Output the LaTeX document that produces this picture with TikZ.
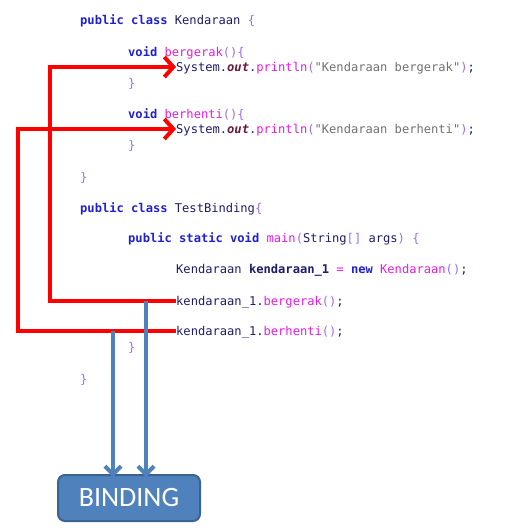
\documentclass[tikz,border=0pt]{standalone}
\usepackage{fontspec}
\setmonofont{DejaVu Sans Mono}
\setsansfont{Carlito}
\usetikzlibrary{arrows.meta}

\definecolor{kwblue}{HTML}{1F1FD6}
\definecolor{idnavy}{HTML}{1C1C6C}
\definecolor{mtpink}{HTML}{E619E6}
\definecolor{brpurple}{HTML}{9B6BF2}
\definecolor{strgray}{HTML}{707070}
\definecolor{outred}{HTML}{6B1A3A}
\definecolor{wireblue}{HTML}{4F81BD}
\definecolor{boxedge}{HTML}{3B6290}

\newcommand{\kw}[1]{\textcolor{kwblue}{\bfseries #1}}
\newcommand{\mt}[1]{\textcolor{mtpink}{#1}}
\newcommand{\br}[1]{\textcolor{brpurple}{#1}}
\newcommand{\str}[1]{\textcolor{strgray}{#1}}
\newcommand{\outf}{\textcolor{outred}{\bfseries\itshape out}}

\tikzset{
  code/.style={anchor=west, inner sep=0pt, text=idnavy,
    font=\ttfamily\fontsize{12.1}{14}\selectfont, text height=10pt, text depth=2pt},
  redwire/.style={draw=red, line width=4pt, line join=miter},
  bluewire/.style={draw=wireblue, line width=4pt},
  bindbox/.style={draw=boxedge, line width=2pt, fill=wireblue, rounded corners=7pt,
    minimum width=142pt, minimum height=46pt, text=white,
    font=\sffamily\fontsize{28}{30}\selectfont}
}

\begin{document}
\begin{tikzpicture}[x=1pt,y=-1pt]
\useasboundingbox (0,0) rectangle (505,530);

% class Kendaraan
\node[code] (clsA) at (80,20) {\kw{public class} Kendaraan \br{\{}};
\node[code] (headA) at (128,52) {\kw{void} \mt{bergerak}\br{()\{}};
\node[code] (bodyA) at (176,67) {System.\outf.\mt{println}\br{(}\str{"Kendaraan bergerak"}\br{)};};
\node[code] (endA) at (128,83) {\br{\}}};
\node[code] (headB) at (128,114) {\kw{void} \mt{berhenti}\br{()\{}};
\node[code] (bodyB) at (176,129) {System.\outf.\mt{println}\br{(}\str{"Kendaraan berhenti"}\br{)};};
\node[code] (endB) at (128,145) {\br{\}}};
\node[code] (endCls) at (80,177) {\br{\}}};

% class TestBinding
\node[code] (clsB) at (80,208) {\kw{public class} TestBinding\br{\{}};
\node[code] (mainH) at (128,238) {\kw{public static void} \mt{main}\br{(}String\br{[]} args\br{)} \br{\{}};
\node[code] (decl) at (176,269) {Kendaraan \textbf{kendaraan\_1} \mt{=} \kw{new} \mt{Kendaraan}\br{()};};
\node[code] (callA) at (176,301) {kendaraan\_1.\mt{bergerak}\br{()};};
\node[code] (callB) at (176,331) {kendaraan\_1.\mt{berhenti}\br{()};};
\node[code] (endMain) at (128,347) {\br{\}}};
\node[code] (endTest) at (80,379) {\br{\}}};

\node[bindbox] (bind) at (129,498) {BINDING};

% calls jump into the method bodies
\coordinate (turnA) at (50,67);
\coordinate (turnB) at (18,129);
\draw[redwire, -{Straight Barb[length=9pt,width=20pt]}] (callA.west) -| (turnA) -- (bodyA.west);
\draw[redwire, -{Straight Barb[length=9pt,width=20pt]}] (callB.west) -| (turnB) -- (bodyB.west);

% both calls go to the binding box
\coordinate (tapA) at (146,301);
\coordinate (tapB) at (113,331);
\draw[bluewire, -{Straight Barb[length=8pt,width=16pt]}] (tapA) -- ([yshift=-3pt]tapA |- bind.north);
\draw[bluewire, -{Straight Barb[length=8pt,width=16pt]}] (tapB) -- ([yshift=-3pt]tapB |- bind.north);
\end{tikzpicture}
\end{document}
